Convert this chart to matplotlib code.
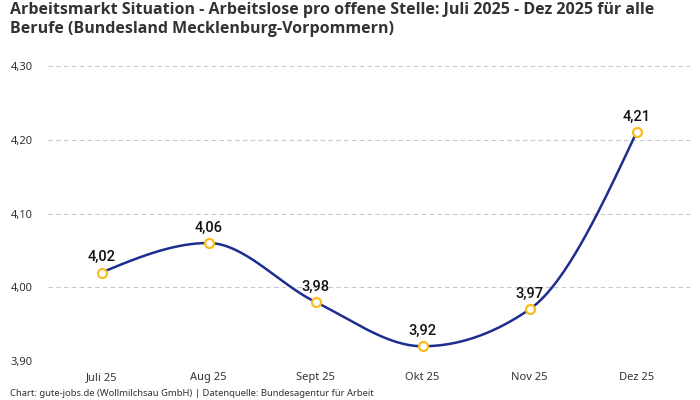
import numpy as np
import matplotlib
matplotlib.use("Agg")
import matplotlib.pyplot as plt

months = ["Juli 25", "Aug 25", "Sept 25", "Okt 25", "Nov 25", "Dez 25"]
values = [4.02, 4.06, 3.98, 3.92, 3.97, 4.21]
y_ticks = [3.90, 4.00, 4.10, 4.20, 4.30]

title = ("Arbeitsmarkt Situation - Arbeitslose pro offene Stelle: Juli 2025 - Dez 2025 für alle\n"
         "Berufe (Bundesland Mecklenburg-Vorpommern)")
footer = "Chart: gute-jobs.de (Wollmilchsau GmbH) | Datenquelle: Bundesagentur für Arbeit"

LINE = "#1c2e8f"
MARK = "#f7be1e"
TEXT = "#333333"


def de(v):
    return f"{v:.2f}".replace(".", ",")


def monotone_curve(x, y, n=60):
    # same tangents as d3.curveMonotoneX
    x = np.asarray(x, float)
    y = np.asarray(y, float)
    k = len(x)
    t = np.zeros(k)
    for i in range(1, k - 1):
        h0 = x[i] - x[i - 1]
        h1 = x[i + 1] - x[i]
        s0 = (y[i] - y[i - 1]) / h0
        s1 = (y[i + 1] - y[i]) / h1
        p = (s0 * h1 + s1 * h0) / (h0 + h1)
        t[i] = (np.sign(s0) + np.sign(s1)) * min(abs(s0), abs(s1), 0.5 * abs(p))
    t[0] = (3 * (y[1] - y[0]) / (x[1] - x[0]) - t[1]) / 2
    t[-1] = (3 * (y[-1] - y[-2]) / (x[-1] - x[-2]) - t[-2]) / 2
    xs, ys = [], []
    u = np.linspace(0, 1, n)
    for i in range(k - 1):
        dx = (x[i + 1] - x[i]) / 3
        px = [x[i], x[i] + dx, x[i + 1] - dx, x[i + 1]]
        py = [y[i], y[i] + dx * t[i], y[i + 1] - dx * t[i + 1], y[i + 1]]
        b = [(1 - u) ** 3, 3 * u * (1 - u) ** 2, 3 * u ** 2 * (1 - u), u ** 3]
        xs.append(sum(bb * pp for bb, pp in zip(b, px)))
        ys.append(sum(bb * pp for bb, pp in zip(b, py)))
    return np.concatenate(xs), np.concatenate(ys)


plt.rcParams["font.family"] = ["Noto Sans", "DejaVu Sans"]

fig = plt.figure(figsize=(7, 4), dpi=100)
ax = fig.add_axes([48 / 700, 1 - 361 / 400, 642 / 700, 295 / 400])

xpos = np.arange(len(months))
cx, cy = monotone_curve(xpos, values)
ax.plot(cx, cy, color=LINE, lw=1.8, zorder=3, solid_capstyle="round")
ax.scatter(xpos, values, s=42, facecolor="white", edgecolor=MARK, linewidth=1.6, zorder=4)

for x, v in zip(xpos, values):
    ax.annotate(de(v), (x, v), xytext=(0, 6), textcoords="offset points",
                ha="center", va="bottom", fontsize=10.5, fontweight="medium",
                family=["Roboto", "DejaVu Sans"], color="#111111")

ax.set_xlim(-0.5, len(months) - 0.5)
ax.set_ylim(3.90, 4.30)
ax.set_yticks(y_ticks)
ax.set_yticklabels([de(v) for v in y_ticks], fontsize=8, color=TEXT)
ax.set_xticks(xpos)
ax.set_xticklabels(months, fontsize=8, color=TEXT)
ax.tick_params(length=0)
ax.tick_params(axis="y", pad=11)
ax.tick_params(axis="x", pad=8)
ax.grid(axis="y", color="#c8c8c8", linestyle=(0, (4, 3)), lw=0.8)
for s in ax.spines.values():
    s.set_visible(False)

fig.text(10 / 700, 1 - 2 / 400, title, ha="left", va="top", fontsize=11.5,
         fontweight="bold", family=["Open Sans", "DejaVu Sans"], color=TEXT,
         linespacing=1.25)
fig.text(10 / 700, 1 - 393 / 400, footer, ha="left", va="center", fontsize=6.8, color=TEXT)

fig.savefig("out.png", dpi=100)
